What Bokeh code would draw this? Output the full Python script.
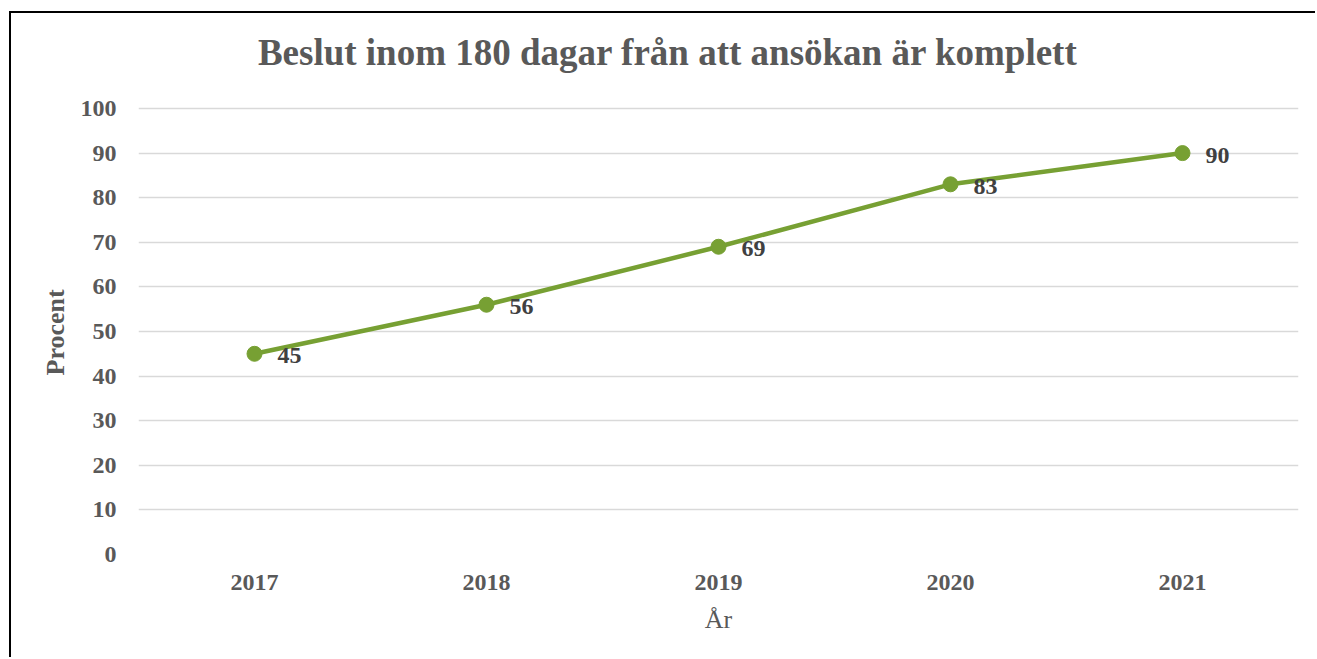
from bokeh.plotting import figure
from bokeh.models import ColumnDataSource, LabelSet, Label, Title, FixedTicker, Range1d
from bokeh.embed import file_html
from bokeh.resources import INLINE

years = ["2017", "2018", "2019", "2020", "2021"]
values = [45, 56, 69, 83, 90]
y_ticks = [0, 10, 20, 30, 40, 50, 60, 70, 80, 90, 100]
title_text = "Beslut inom 180 dagar från att ansökan är komplett"
x_label = "År"
y_label = "Procent"

src = ColumnDataSource(dict(year=years, value=values, label=[str(v) for v in values]))

# frame extends above 100 so the title can sit inside it (no gridlines above 100)
p = figure(x_range=years, y_range=Range1d(0, 119.28), width=1306, height=646,
           output_backend="svg", toolbar_location=None,
           min_border_left=127, min_border_right=19, min_border_top=9, min_border_bottom=105)
p.styles = {"border-top": "2px solid #000", "border-left": "2px solid #000",
            "margin-top": "11px", "margin-left": "9px"}
p.x_range.range_padding = 0
p.outline_line_color = None
p.background_fill_color = "white"
p.border_fill_color = "white"

title = Label(x=529.5, y=112.5, x_units="screen", y_units="data", text=title_text,
              text_align="center", text_baseline="alphabetic",
              text_font="Liberation Serif", text_font_size="37px", text_font_style="bold",
              text_color="#595959")
p.add_layout(title)

p.xgrid.grid_line_color = None
p.ygrid.grid_line_color = "#D9D9D9"
p.ygrid.grid_line_width = 1.5
p.yaxis.ticker = FixedTicker(ticks=y_ticks)

for ax in (p.xaxis[0], p.yaxis[0]):
    ax.axis_line_color = None
    ax.major_tick_line_color = None
    ax.minor_tick_line_color = None
    ax.major_tick_out = 0
    ax.major_tick_in = 0
    ax.major_label_text_font = "Liberation Serif"
    ax.major_label_text_font_size = "24px"
    ax.major_label_text_font_style = "bold"
    ax.major_label_text_color = "#595959"
    ax.axis_label_text_font = "Liberation Serif"
    ax.axis_label_text_font_size = "26px"
    ax.axis_label_text_color = "#595959"

p.yaxis.major_label_standoff = 22
p.xaxis.major_label_standoff = 20
p.xaxis.axis_label = x_label
p.xaxis.axis_label_text_font_style = "normal"
p.xaxis.axis_label_standoff = 12

# y-axis title placed as a side title so it can be centred on the 0-100 span
ytitle = Title(text=y_label, align="left", offset=179, standoff=16,
               text_font="Liberation Serif", text_font_size="26px", text_font_style="bold",
               text_color="#595959")
p.add_layout(ytitle, "left")

p.line("year", "value", source=src, line_color="#77A033", line_width=4.5)
p.scatter("year", "value", source=src, size=15, fill_color="#77A033", line_color="#77A033")

labels = LabelSet(x="year", y="value", text="label", source=src, x_offset=23, y_offset=-2,
                  text_align="left", text_baseline="middle", text_font="Liberation Serif",
                  text_font_size="24px", text_font_style="bold", text_color="#404040")
p.add_layout(labels)

open("out.html", "w").write(file_html(p, INLINE))
